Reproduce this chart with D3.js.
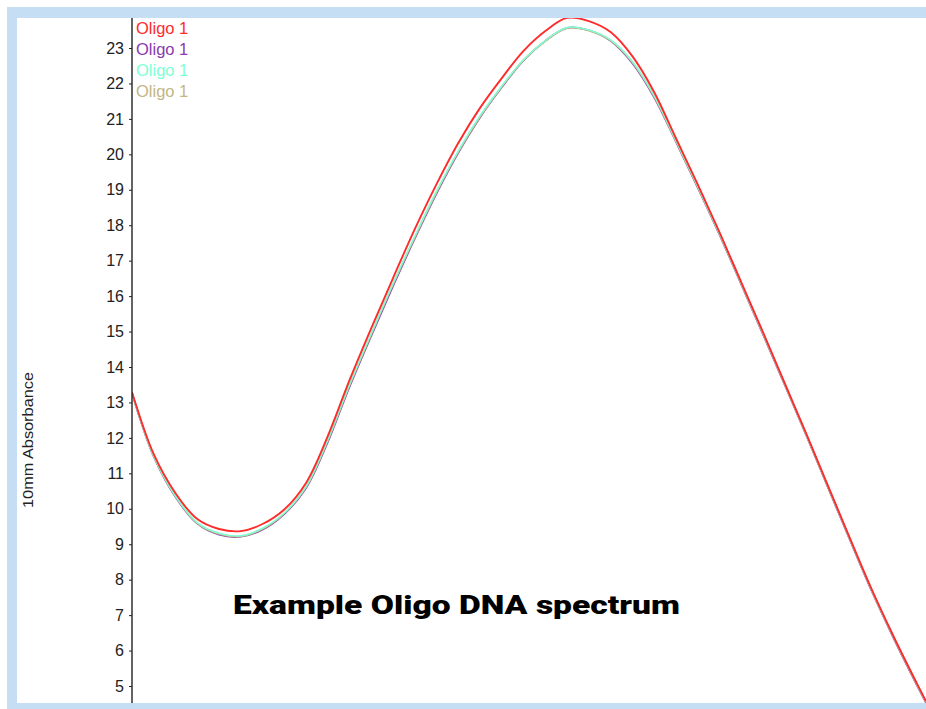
<!DOCTYPE html>
<html><head><meta charset="utf-8">
<script src="https://cdn.jsdelivr.net/npm/d3@7"></script>
<style>html,body{margin:0;padding:0;background:#fff;}svg{display:block;}</style>
</head><body>
<svg id="chart" width="926" height="709"></svg>
<script>
const wavelengths = [220,222,224,226,228,230,232,234,236,238,240,242,244,246,248,250,252,254,256,258,260,262,264,266,268,270,272,274,276,278,280,282,284,286,288,290,292,293];
const redSeries = [13.29,11.54,10.44,9.71,9.43,9.37,9.57,9.98,10.73,12.05,13.63,15.10,16.51,17.89,19.16,20.32,21.31,22.15,22.92,23.48,23.85,23.76,23.45,22.77,21.76,20.46,19.16,17.81,16.40,14.99,13.55,12.11,10.64,9.17,7.73,6.41,5.17,4.57];
const purpleSeries = [13.26,11.47,10.33,9.58,9.27,9.21,9.41,9.85,10.58,11.88,13.44,14.88,16.28,17.62,18.89,20.04,21.04,21.89,22.65,23.20,23.57,23.50,23.20,22.57,21.61,20.36,19.07,17.74,16.34,14.93,13.50,12.06,10.59,9.12,7.68,6.36,5.12,4.52];
const aquaSeries = [13.27,11.49,10.36,9.61,9.31,9.24,9.45,9.88,10.63,11.95,13.51,14.95,16.36,17.69,18.96,20.10,21.09,21.93,22.67,23.21,23.58,23.51,23.23,22.62,21.66,20.40,19.11,17.77,16.37,14.96,13.53,12.09,10.62,9.15,7.71,6.39,5.15,4.55];
const tanSeries = [13.27,11.48,10.35,9.59,9.29,9.22,9.43,9.87,10.61,11.92,13.48,14.92,16.33,17.66,18.93,20.07,21.06,21.91,22.66,23.20,23.56,23.49,23.21,22.60,21.64,20.38,19.09,17.76,16.36,14.95,13.52,12.08,10.61,9.14,7.70,6.38,5.14,4.54];
const yTicks = [5,6,7,8,9,10,11,12,13,14,15,16,17,18,19,20,21,22,23];
const legendLabels = ["Oligo 1","Oligo 1","Oligo 1","Oligo 1"];
const seriesColors = ["#ff2b2b","#8a3ab0","#7fffd4","#c4b585"];
const titleText = "Example Oligo DNA spectrum";
const yTitle = "10mm Absorbance";

const svg = d3.select("#chart");
// light blue frame
svg.append("rect").attr("x",7).attr("y",7).attr("width",919).attr("height",702).attr("fill","#c5def3");
svg.append("rect").attr("x",17).attr("y",18).attr("width",909).attr("height",685).attr("fill","#fff");

const x = d3.scaleLinear().domain([220,293]).range([132,926]);
const y = d3.scaleLinear().domain([5,23]).range([686,48]);

svg.append("defs").append("clipPath").attr("id","plot")
  .append("rect").attr("x",132).attr("y",18).attr("width",794).attr("height",685);

const line = d3.line().x((d,i)=>x(wavelengths[i])).y(d=>y(d)).curve(d3.curveCatmullRom.alpha(0.5));
const g = svg.append("g").attr("clip-path","url(#plot)");
const drawOrder = [[purpleSeries,seriesColors[1],1.7],[tanSeries,seriesColors[3],1.8],[aquaSeries,seriesColors[2],1.5],[redSeries,seriesColors[0],1.9]];
drawOrder.forEach(([vals,col,w])=>{
  g.append("path").datum(vals).attr("d",line).attr("fill","none").attr("stroke",col).attr("stroke-width",w).attr("stroke-linejoin","round");
});

// y axis
const axis = d3.axisLeft(y).tickValues(yTicks).tickSize(3).tickPadding(5).tickFormat(d3.format("d"));
const ag = svg.append("g").attr("transform","translate(132,0)").call(axis);
ag.select(".domain").remove();
ag.selectAll(".tick line").attr("stroke","#222");
ag.selectAll(".tick text").attr("fill","#222").style("font-family","'Liberation Sans',Arial,sans-serif").style("font-size","16px");
svg.append("line").attr("x1",132).attr("x2",132).attr("y1",18).attr("y2",703).attr("stroke","#222").attr("stroke-width",1.4);

// y title
svg.append("text").attr("transform","translate(33,440) rotate(-90)").attr("text-anchor","middle")
  .style("font-family","'Liberation Sans',Arial,sans-serif").style("font-size","14px").attr("fill","#222")
  .attr("textLength",136).attr("lengthAdjust","spacingAndGlyphs").text(yTitle);

// legend
legendLabels.forEach((t,i)=>{
  svg.append("text").attr("x",136).attr("y",33.5+i*21).attr("fill",seriesColors[i])
    .style("font-family","'Liberation Sans',Arial,sans-serif").style("font-size","16.5px").text(t);
});

// title
svg.append("text").attr("x",233).attr("y",614).attr("fill","#000")
  .style("font-family","Roboto,'Liberation Sans',Arial,sans-serif").style("font-weight","900").style("font-size","26px")
  .attr("textLength",447).attr("lengthAdjust","spacingAndGlyphs").text(titleText);
</script>
</body></html>
